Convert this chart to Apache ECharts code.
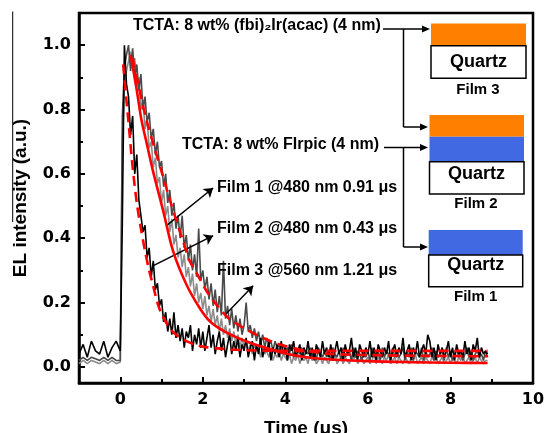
<!DOCTYPE html>
<html>
<head>
<meta charset="utf-8">
<script src="https://cdn.jsdelivr.net/npm/echarts@6/dist/echarts.min.js"></script>
<style>html,body{margin:0;padding:0;background:#fff}#c{width:546px;height:433px}</style>
</head>
<body>
<div id="c"></div>
<script>
// Shared time axis (μs)
const time = [
 -1.0,-0.9,-0.8,-0.7,-0.6,-0.5,-0.4,-0.3,-0.2,-0.1,0.0,0.05,
 0.1,0.15,0.2,0.25,0.3,0.35,0.4,0.45,0.5,0.55,0.6,0.65,0.7,0.75,0.8,0.85,0.9,0.95,
 1.0,1.05,1.1,1.15,1.2,1.25,1.3,1.35,1.4,1.45,1.5,1.55,1.6,1.65,1.7,1.75,1.8,1.85,1.9,1.95,
 2.0,2.05,2.1,2.15,2.2,2.25,2.3,2.35,2.4,2.45,2.5,2.55,2.6,2.65,2.7,2.75,2.8,2.85,2.9,2.95,
 3.0,3.05,3.1,3.15,3.2,3.25,3.3,3.35,3.4,3.45,3.5,3.55,3.6,3.65,3.7,3.75,3.8,3.85,3.9,3.95,
 4.0,4.05,4.1,4.15,4.2,4.25,4.3,4.35,4.4,4.45,4.5,4.55,4.6,4.65,4.7,4.75,4.8,4.85,4.9,4.95,
 5.0,5.05,5.1,5.15,5.2,5.25,5.3,5.35,5.4,5.45,5.5,5.55,5.6,5.65,5.7,5.75,5.8,5.85,5.9,5.95,
 6.0,6.05,6.1,6.15,6.2,6.25,6.3,6.35,6.4,6.45,6.5,6.55,6.6,6.65,6.7,6.75,6.8,6.85,6.9,6.95,
 7.0,7.05,7.1,7.15,7.2,7.25,7.3,7.35,7.4,7.45,7.5,7.55,7.6,7.65,7.7,7.75,7.8,7.85,7.9,7.95,
 8.0,8.05,8.1,8.15,8.2,8.25,8.3,8.35,8.4,8.45,8.5,8.55,8.6,8.65,8.7,8.75,8.8,8.85,8.9
];
// Film 1 (light grey) EL transient
const film1 = [
 0.01,0.02,0.01,0.02,0.015,0.01,0.02,0.01,0.02,0.01,0.015,0.70,
 0.86,0.92,0.95,0.98,0.93,0.96,0.87,0.90,0.80,0.83,0.74,0.77,0.68,0.70,0.62,0.65,0.57,0.59,
 0.51,0.55,0.47,0.50,0.42,0.46,0.38,0.41,0.34,0.37,0.31,0.35,0.28,0.31,0.25,0.29,0.22,0.26,0.20,0.23,
 0.18,0.22,0.16,0.19,0.14,0.18,0.13,0.16,0.11,0.15,0.10,0.13,0.09,0.12,0.08,0.11,0.07,0.10,0.06,0.09,
 0.06,0.08,0.05,0.07,0.04,0.07,0.05,0.06,0.03,0.06,0.04,0.05,0.03,0.05,0.02,0.04,0.03,0.05,0.02,0.04,
 0.03,0.02,0.04,0.01,0.03,0.02,0.04,0.01,0.03,0.02,0.03,0.01,0.04,0.02,0.03,0.01,0.02,0.03,0.01,0.03,
 0.02,0.01,0.03,0.02,0.04,0.01,0.02,0.03,0.01,0.03,0.02,0.01,0.03,0.02,0.04,0.01,0.02,0.03,0.01,0.02,
 0.03,0.01,0.02,0.04,0.01,0.03,0.02,0.01,0.03,0.02,0.04,0.01,0.02,0.03,0.01,0.03,0.02,0.01,0.03,0.02,
 0.01,0.03,0.02,0.04,0.01,0.02,0.03,0.01,0.03,0.02,0.01,0.03,0.02,0.04,0.01,0.02,0.03,0.01,0.02,0.03,
 0.01,0.03,0.02,0.01,0.03,0.02,0.04,0.01,0.02,0.03,0.01,0.02,0.03,0.01,0.03,0.02,0.01,0.02,0.02
];
// Film 2 (black) EL transient
const film2 = [
 0.04,0.07,0.03,0.08,0.05,0.04,0.08,0.03,0.06,0.08,0.05,0.45,
 1.00,0.88,0.84,0.72,0.78,0.60,0.66,0.52,0.47,0.42,0.44,0.34,0.37,0.28,0.33,0.24,0.26,0.19,
 0.21,0.14,0.17,0.11,0.15,0.10,0.17,0.09,0.13,0.08,0.12,0.06,0.11,0.09,0.13,0.05,0.10,0.07,0.12,0.06,
 0.11,0.05,0.09,0.13,0.06,0.10,0.04,0.08,0.11,0.05,0.09,0.03,0.07,0.10,0.04,0.08,0.05,0.09,0.03,0.07,
 0.05,0.09,0.03,0.06,0.08,0.02,0.07,0.04,0.09,0.03,0.06,0.05,0.08,0.02,0.06,0.04,0.07,0.03,0.08,0.04,
 0.06,0.02,0.07,0.05,0.08,0.03,0.05,0.07,0.02,0.06,0.04,0.08,0.03,0.06,0.02,0.07,0.05,0.03,0.08,0.04,
 0.06,0.03,0.07,0.02,0.05,0.08,0.04,0.06,0.02,0.07,0.04,0.05,0.09,0.03,0.06,0.02,0.07,0.05,0.03,0.06,
 0.04,0.08,0.03,0.06,0.02,0.07,0.05,0.03,0.06,0.04,0.08,0.02,0.05,0.07,0.03,0.06,0.04,0.09,0.03,0.05,
 0.07,0.02,0.06,0.04,0.08,0.03,0.05,0.07,0.04,0.10,0.08,0.03,0.06,0.02,0.07,0.04,0.06,0.03,0.05,0.08,
 0.03,0.06,0.02,0.07,0.04,0.05,0.03,0.08,0.04,0.06,0.02,0.07,0.05,0.09,0.03,0.06,0.04,0.05,0.04
];
// Film 3 (dark grey) EL transient
const film3 = [
 0.02,0.03,0.02,0.03,0.025,0.02,0.03,0.02,0.03,0.02,0.02,0.78,
 0.93,0.97,1.00,0.92,0.99,0.90,0.94,0.86,0.91,0.80,0.84,0.76,0.79,0.71,0.74,0.66,0.70,0.62,
 0.64,0.56,0.60,0.51,0.55,0.47,0.51,0.43,0.47,0.40,0.47,0.37,0.41,0.33,0.38,0.30,0.35,0.28,0.43,0.27,
 0.30,0.24,0.28,0.21,0.26,0.19,0.24,0.17,0.22,0.16,0.33,0.15,0.19,0.13,0.18,0.12,0.16,0.11,0.15,0.10,
 0.13,0.20,0.11,0.13,0.09,0.12,0.08,0.11,0.07,0.10,0.06,0.09,0.07,0.08,0.05,0.08,0.06,0.07,0.04,0.07,
 0.05,0.06,0.04,0.07,0.03,0.06,0.05,0.04,0.06,0.03,0.05,0.04,0.06,0.03,0.05,0.02,0.06,0.04,0.03,0.05,
 0.03,0.05,0.02,0.06,0.04,0.03,0.05,0.02,0.06,0.03,0.04,0.05,0.02,0.06,0.03,0.05,0.04,0.02,0.05,0.03,
 0.05,0.02,0.06,0.03,0.04,0.05,0.02,0.06,0.03,0.05,0.04,0.02,0.06,0.03,0.05,0.03,0.04,0.06,0.02,0.05,
 0.03,0.06,0.02,0.05,0.04,0.03,0.06,0.02,0.05,0.03,0.04,0.06,0.02,0.05,0.03,0.04,0.05,0.02,0.06,0.03,
 0.05,0.02,0.04,0.06,0.03,0.05,0.02,0.04,0.06,0.03,0.05,0.02,0.04,0.05,0.03,0.04,0.02,0.05,0.03
];
// Fitted decay curves
const fit1T = [0.25,0.4,0.51,0.65,0.79,1.04,1.28,1.6,1.92,2.17,2.5,3.0,3.5,4.0,4.5,5.0,6.0,7.0,8.0,8.9];
const fit1V = [0.97,0.86,0.77,0.69,0.61,0.485,0.36,0.257,0.184,0.142,0.112,0.082,0.06,0.042,0.03,0.024,0.018,0.015,0.013,0.012];
const fit2T = [0.07,0.2,0.3,0.4,0.5,0.6,0.7,0.8,0.9,1.0,1.2,1.4,1.6,1.8,2.0,2.5,3.0,4.0,5.0,6.0,7.0,8.0,8.9];
const fit2V = [0.94,0.76,0.62,0.51,0.43,0.36,0.30,0.25,0.20,0.165,0.12,0.095,0.08,0.07,0.063,0.056,0.052,0.05,0.05,0.05,0.05,0.05,0.05];
const fit3T = [0.3,0.45,0.63,0.83,1.04,1.2,1.36,1.5,1.68,1.9,2.09,2.35,2.61,3.0,3.3,3.7,4.18,4.6,5.15,6.0,7.0,8.0,8.9];
const fit3V = [0.96,0.87,0.77,0.68,0.59,0.52,0.454,0.40,0.33,0.28,0.236,0.19,0.153,0.12,0.10,0.077,0.059,0.048,0.04,0.037,0.035,0.034,0.033];
// Tick values
const xMajor = [0,2,4,6,8,10];
const xMinor = [1,3,5,7,9];
const yMajor = [0,0.2,0.4,0.6,0.8,1.0];
const yMinor = [0.1,0.3,0.5,0.7,0.9];
// Annotation arrows (data coordinates: from curve to label)
const arrow1 = [[1.12,0.439],[2.25,0.556]];
const arrow2 = [[0.79,0.314],[2.25,0.408]];
const arrow3 = [[2.55,0.163],[3.22,0.252]];
const labels = ['Film 1 @480 nm 0.91 \u03bcs','Film 2 @480 nm 0.43 \u03bcs','Film 3 @560 nm 1.21 \u03bcs'];

const zip = (t, v) => t.map((x, i) => [x, v[i]]);
const F = '"Liberation Sans", Arial, sans-serif';
const chart = echarts.init(document.getElementById('c'));

const tickStyle = {color:'#000', width:2};
const noisy = (name, data, color) => ({
  name, type:'line', data, showSymbol:false, symbol:'none', silent:true,
  lineStyle:{color, width:1.6}, z:2
});
const fit = (name, data, dashed) => ({
  name, type:'line', data, showSymbol:false, symbol:'none', smooth:0.3, silent:true,
  lineStyle:{color:'#ff0000', width:2.6, type: dashed ? [10,6] : 'solid'}, z:5
});
const arrowLine = a => [{coord:a[0]},{coord:a[1]}];

const T = (text, x, y, size, align) => ({
  type:'text', silent:true, z:100,
  style:{text, x, y, fill:'#000', font:'bold '+size+'px '+F, textAlign:align||'left', textVerticalAlign:'middle'}
});
const L = (x1,y1,x2,y2,w) => ({type:'line', silent:true, z:100, shape:{x1,y1,x2,y2}, style:{stroke:'#000', lineWidth:w||1.5}});
const H = (x,y) => ({type:'polygon', silent:true, z:100, shape:{points:[[x,y],[x-8,y-3.5],[x-8,y+3.5]]}, style:{fill:'#000'}});
const R = (x,y,w,h,fill,stroke) => ({type:'rect', silent:true, z:99, shape:{x,y,width:w,height:h},
  style:{fill, stroke: stroke ? '#000' : null, lineWidth: stroke ? 1.5 : 0}});

const orange = '#ff8000', blue = '#4169e1';

chart.setOption({
  animation:false,
  backgroundColor:'#fff',
  grid:{left:79, right:13, top:13, bottom:50, show:true, borderColor:'#000', borderWidth:2.5,
        containLabel:false, outerBoundsMode:'none'},
  xAxis:[{
    type:'value', min:-1, max:10, position:'bottom',
    axisLine:{show:true, onZero:false, lineStyle:{color:'#000', width:2.5}},
    axisTick:{show:true, inside:true, length:6, lineStyle:tickStyle, customValues:xMajor},
    axisLabel:{customValues:xMajor, color:'#000', fontSize:16, fontWeight:'bold', fontFamily:'"DejaVu Sans"', margin:9},
    splitLine:{show:false},
    name:'Time (\u03bcs)', nameLocation:'middle', nameGap:36,
    nameTextStyle:{color:'#000', fontSize:19, fontWeight:'bold', fontFamily:F}
  },{
    type:'value', min:-1, max:10, position:'bottom',
    axisLine:{show:false, onZero:false}, axisLabel:{show:false}, splitLine:{show:false},
    axisTick:{show:true, inside:true, length:4, lineStyle:tickStyle, customValues:xMinor}
  }],
  yAxis:[{
    type:'value', min:-0.05, max:1.1, position:'left',
    axisLine:{show:true, onZero:false, lineStyle:{color:'#000', width:2.5}},
    axisTick:{show:true, inside:true, length:6, lineStyle:tickStyle, customValues:yMajor},
    axisLabel:{customValues:yMajor, formatter:v => v.toFixed(1), color:'#000', fontSize:16, fontWeight:'bold', fontFamily:'"DejaVu Sans"', margin:8},
    splitLine:{show:false},
    name:'EL intensity (a.u.)', nameLocation:'middle', nameGap:49, nameRotate:90,
    nameTextStyle:{color:'#000', fontSize:19, fontWeight:'bold', fontFamily:F}
  },{
    type:'value', min:-0.05, max:1.1, position:'left',
    axisLine:{show:false, onZero:false}, axisLabel:{show:false}, splitLine:{show:false},
    axisTick:{show:true, inside:true, length:4, lineStyle:tickStyle, customValues:yMinor}
  }],
  series:[
    noisy('Film 1', zip(time, film1), '#8c8c8c'),
    noisy('Film 3', zip(time, film3), '#4a4a4a'),
    Object.assign(noisy('Film 2', zip(time, film2), '#000000'), {
      markLine:{
        silent:true, animation:false, symbol:['none','arrow'], symbolSize:9,
        label:{show:false},
        lineStyle:{color:'#000', width:1.5, type:'solid'},
        emphasis:{disabled:true},
        data:[arrowLine(arrow1), arrowLine(arrow2), arrowLine(arrow3)]
      }
    }),
    fit('Fit 1', zip(fit1T, fit1V), false),
    fit('Fit 2', zip(fit2T, fit2V), true),
    fit('Fit 3', zip(fit3T, fit3V), true)
  ],
  graphic:[
    L(12.7, 11.5, 12.7, 222, 1),
    T('TCTA: 8 wt% (fbi)\u2082Ir(acac) (4 nm)', 133, 26, 16),
    T('TCTA: 8 wt% FIrpic (4 nm)', 182, 144.5, 16),
    T(labels[0], 217, 188, 16),
    T(labels[1], 217, 229, 16),
    T(labels[2], 217, 270.5, 16),
    // connectors
    L(383, 29, 424, 29), H(430, 29),
    L(403.5, 29, 403.5, 127), L(403.5, 127, 422, 127), H(428, 127),
    L(384, 147.5, 422, 147.5), H(428, 147.5),
    L(403.5, 147.5, 403.5, 247), L(403.5, 247, 422, 247), H(428, 247),
    // Film 3 stack
    R(431, 23.5, 95, 22.2, orange, false),
    R(431, 45.7, 95, 32.6, '#fff', true),
    T('Quartz', 478.5, 62, 18, 'center'),
    T('Film 3', 478, 90, 15, 'center'),
    // Film 2 stack
    R(429.5, 115, 94.5, 21.7, orange, false),
    R(429.5, 136.7, 94.5, 25, blue, false),
    R(429.5, 161.7, 94.5, 32.3, '#fff', true),
    T('Quartz', 476.5, 174, 18, 'center'),
    T('Film 2', 476, 204, 15, 'center'),
    // Film 1 stack
    R(428.7, 230, 94, 25, blue, false),
    R(428.7, 255, 94, 31.7, '#fff', true),
    T('Quartz', 475.7, 265.5, 18, 'center'),
    T('Film 1', 475.7, 296.7, 15, 'center')
  ]
});
</script>
</body>
</html>
